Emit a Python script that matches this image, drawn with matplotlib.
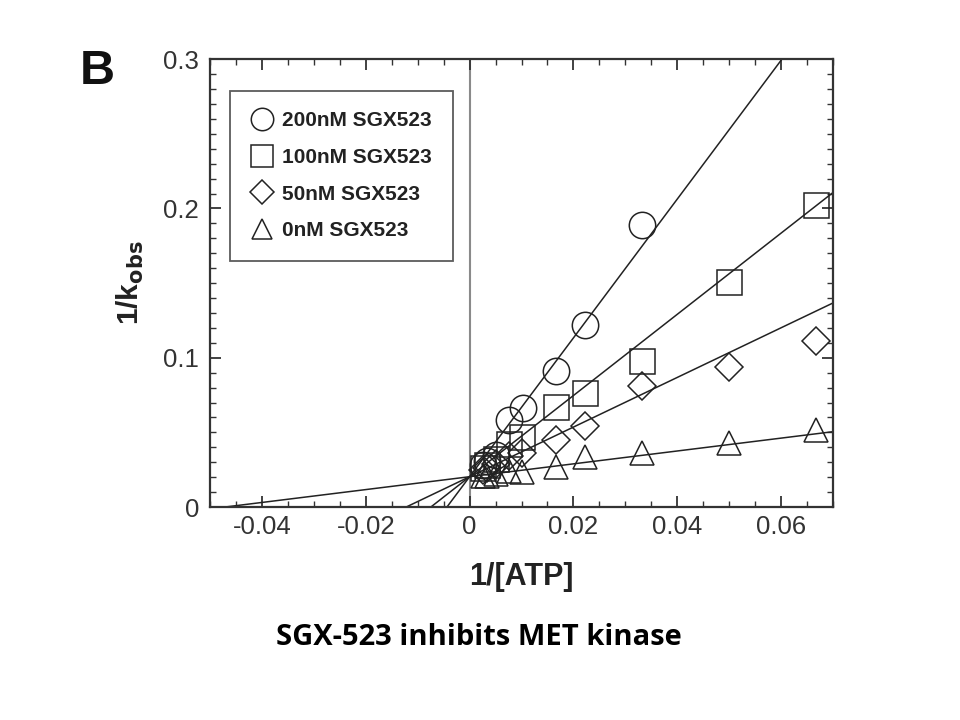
import matplotlib
matplotlib.use('Agg')
import matplotlib.pyplot as plt
from matplotlib.lines import Line2D
from matplotlib.ticker import MultipleLocator, FuncFormatter
import numpy as np

plt.rcParams['font.family'] = ['Liberation Sans', 'DejaVu Sans']

# 1/[ATP] values and 1/kobs readings
x_all = [0.0667, 0.05, 0.0333, 0.0222, 0.0167, 0.01, 0.0075, 0.005, 0.0033, 0.0025]
y_0nM = [0.0517, 0.0427, 0.0365, 0.0333, 0.027, 0.0237, 0.024, 0.022, 0.021, 0.021]
y_50nM = [0.111, 0.0937, 0.0812, 0.0544, 0.045, 0.036, 0.034, 0.029, 0.026, 0.025]
y_100nM = [0.2022, 0.151, 0.0975, 0.0767, 0.0673, 0.047, 0.042, 0.032, 0.028, 0.026]
x_200nM = [0.0333, 0.0222, 0.0167, 0.0102, 0.0075, 0.005, 0.0033, 0.0025]
y_200nM = [0.1886, 0.1221, 0.0908, 0.0662, 0.0584, 0.035, 0.031, 0.028]

# fitted lines (common intercept, competitive)
intercept = 0.0203
slopes = {'200nM': 4.65, '100nM': 2.72, '50nM': 1.663, '0nM': 0.431}

labels = ['200nM SGX523', '100nM SGX523', '50nM SGX523', '0nM SGX523']
markers = ['o', 's', 'D', '^']
msizes = [19, 18, 14, 17]

fig = plt.figure(figsize=(9.6, 7.2), dpi=100)
ax = fig.add_axes([0.21875, 0.2958, 0.649, 0.622])

ax.axvline(0, color='#8a8a8a', lw=1.5, zorder=1)

xl = np.array([-0.05, 0.07])
for k in slopes:
    ax.plot(xl, intercept + slopes[k] * xl, color='#222222', lw=1.1, zorder=2)

series = [(x_200nM, y_200nM), (x_all, y_100nM), (x_all, y_50nM), (x_all, y_0nM)]
for (xs, ys), m, ms in zip(series, markers, msizes):
    ax.plot(xs, ys, linestyle='none', marker=m, markersize=ms,
            markerfacecolor='none', markeredgecolor='#222222',
            markeredgewidth=1.1, zorder=3)

ax.set_xlim(-0.05, 0.07)
ax.set_ylim(0, 0.3)
ax.xaxis.set_major_locator(MultipleLocator(0.02))
ax.xaxis.set_minor_locator(MultipleLocator(0.005))
ax.yaxis.set_major_locator(MultipleLocator(0.1))
ax.yaxis.set_minor_locator(MultipleLocator(0.01))
fmt = FuncFormatter(lambda v, p: '0' if abs(v) < 1e-9 else f'{v:g}')
ax.xaxis.set_major_formatter(fmt)
ax.yaxis.set_major_formatter(fmt)

ax.tick_params(which='both', direction='in', top=True, right=True,
               color='#333333', labelsize=18.5, labelcolor='#333333')
ax.tick_params(which='major', length=8, width=1.3)
ax.tick_params(axis='x', which='major', pad=6)
ax.tick_params(axis='y', which='major', pad=8)
ax.tick_params(which='minor', length=4, width=1.0)
for s in ax.spines.values():
    s.set_color('#333333')
    s.set_linewidth(1.6)

ax.set_xlabel('1/[ATP]', fontsize=22, fontweight='bold', color='#222222', labelpad=16)
ax.set_ylabel(r'1/k$_{\mathbf{obs}}$', fontsize=21.5, fontweight='bold', color='#222222', labelpad=12)

handles = [Line2D([], [], linestyle='none', marker=m, markersize=ms * 0.85,
                  markerfacecolor='none', markeredgecolor='#222222', markeredgewidth=1.1)
           for m, ms in zip(markers, msizes)]
leg = ax.legend(handles, labels, loc='upper left', bbox_to_anchor=(0.032, 0.93),
                prop={'weight': 'bold', 'size': 15}, frameon=True, fancybox=False,
                edgecolor='#333333', handletextpad=0.4, labelspacing=0.85,
                borderpad=1.0, handlelength=1.1, borderaxespad=0)
leg.get_frame().set_linewidth(1.3)
for t in leg.get_texts():
    t.set_color('#222222')

fig.text(0.083, 0.9, 'B', fontsize=35, fontweight='bold', color='#111111', va='center')
fig.text(0.499, 0.115, 'SGX-523 inhibits MET kinase', fontsize=21, fontweight='bold',
         family=['Open Sans', 'DejaVu Sans'], ha='center', va='center', color='black')

fig.savefig('out.png', dpi=100)
